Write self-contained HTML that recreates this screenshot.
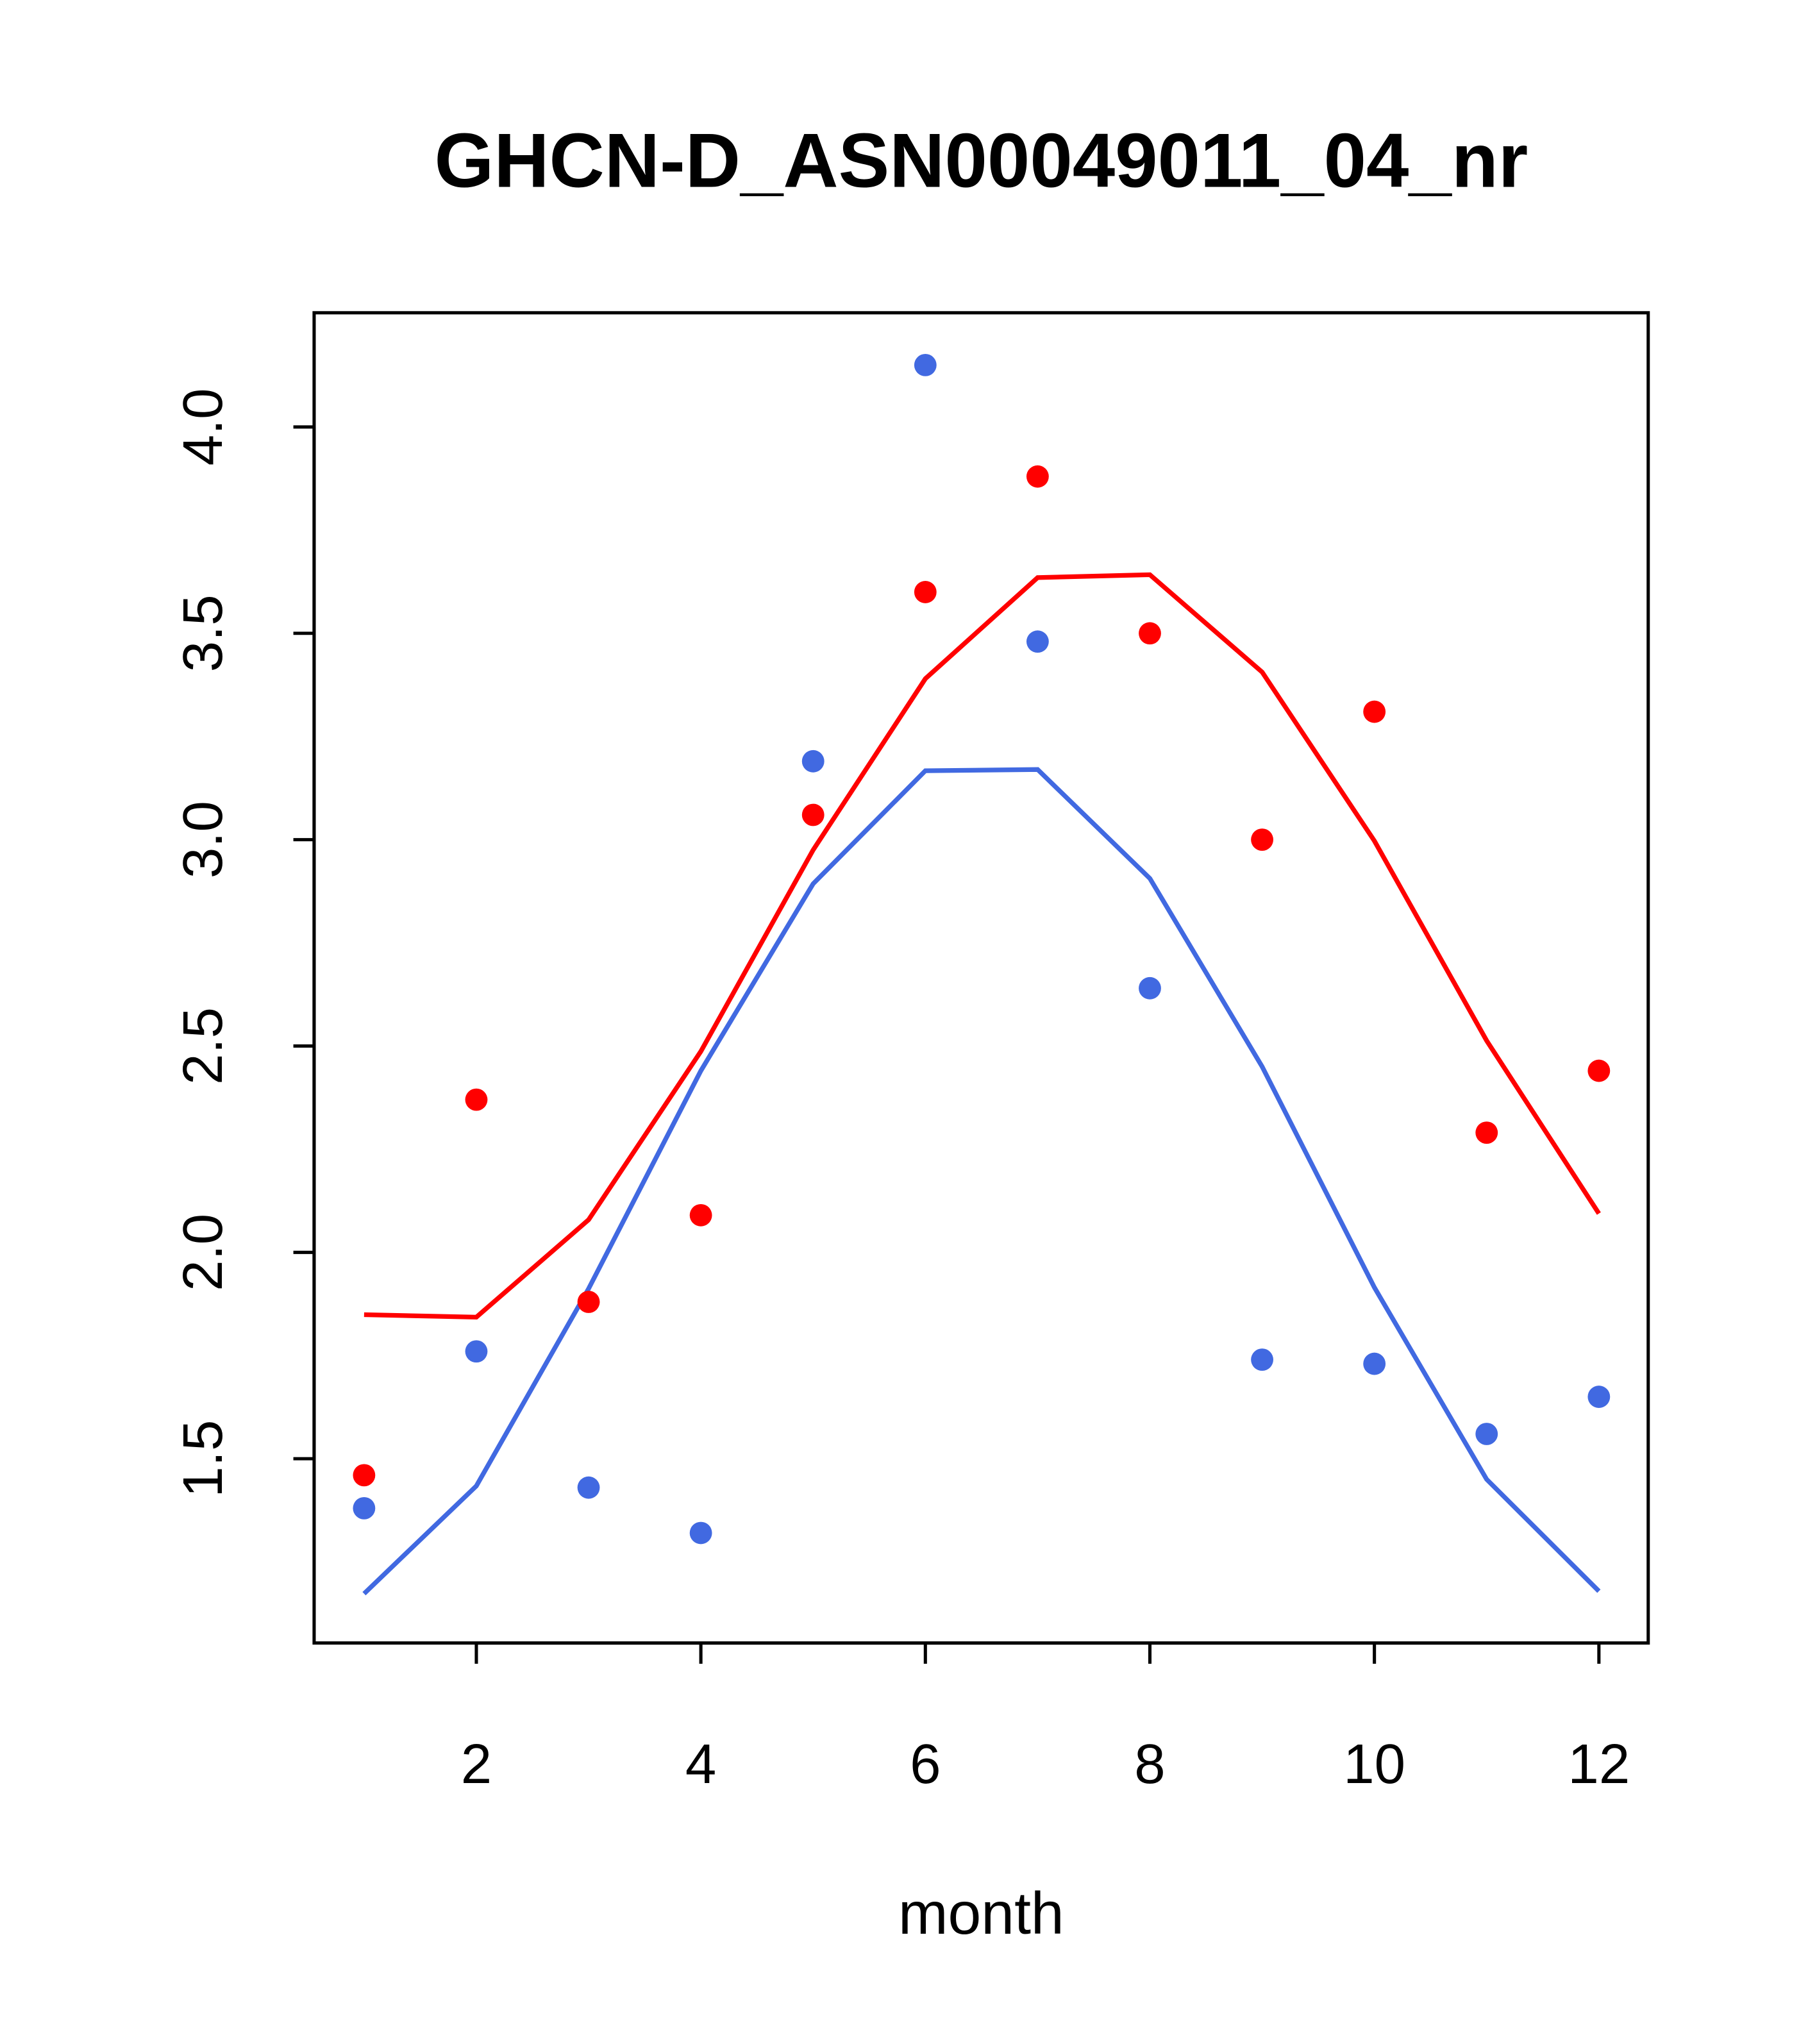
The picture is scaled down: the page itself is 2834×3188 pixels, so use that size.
<!DOCTYPE html>
<html><head><meta charset="utf-8"><style>html,body{margin:0;padding:0;background:#fff}svg{display:block}</style></head>
<body>
<svg width="2834" height="3188" viewBox="0 0 1400 1575" xmlns="http://www.w3.org/2000/svg" font-family="'Liberation Sans', sans-serif">
<rect width="1400" height="1575" fill="#fff"/>
<text x="756" y="144" text-anchor="middle" font-size="59" font-weight="bold">GHCN-D_ASN00049011_04_nr</text>
<rect x="242" y="241" width="1028" height="1025" fill="none" stroke="#000" stroke-width="2.5"/>
<g id="xaxis"></g>
<g id="yaxis"></g>
<text x="756" y="1490" text-anchor="middle" font-size="46">month</text>
<g id="series"></g>
</svg>
<script>
const months = [1,2,3,4,5,6,7,8,9,10,11,12];
const redPoints = [1.46,2.37,1.88,2.09,3.06,3.60,3.88,3.50,3.00,3.31,2.29,2.44];
const bluePoints = [1.38,1.76,1.43,1.32,3.19,4.15,3.48,2.64,1.74,1.73,1.56,1.65];
const redLine = [1.849,1.843,2.079,2.487,2.975,3.390,3.635,3.642,3.406,2.997,2.513,2.094];
const blueLine = [1.173,1.434,1.912,2.440,2.893,3.167,3.170,2.906,2.450,1.915,1.450,1.179];
const xTicks = [2,4,6,8,10,12];
const yTicks = [1.5,2.0,2.5,3.0,3.5,4.0];
const yTickLabels = ["1.5","2.0","2.5","3.0","3.5","4.0"];

const NS = "http://www.w3.org/2000/svg";
function X(m){return 280.5 + (m-1)*86.5;}
function Y(v){return 1124 - (v-1.5)*318;}
function mk(tag, attrs, parent){const e=document.createElementNS(NS,tag);for(const k in attrs)e.setAttribute(k,attrs[k]);parent.appendChild(e);return e;}

const xa=document.getElementById('xaxis');
mk('line',{x1:X(2),x2:X(12),y1:1266,y2:1266,stroke:'#000','stroke-width':2.5},xa);
xTicks.forEach(t=>{
  const l=mk('line',{x1:X(t),x2:X(t),y1:1266,y2:1282,stroke:'#000','stroke-width':2.5},xa);
  
  
  const tx=mk('text',{x:X(t),y:1374,'text-anchor':'middle','font-size':43},xa);
  tx.textContent=t;
  
  
});
const ya=document.getElementById('yaxis');
mk('line',{x1:242,x2:242,y1:Y(1.5),y2:Y(4.0),stroke:'#000','stroke-width':2.5},ya);
yTicks.forEach((t,i)=>{
  const l=mk('line',{x1:226,x2:242,y1:Y(t),y2:Y(t),stroke:'#000','stroke-width':2.5},ya);
  
  
  const tx=mk('text',{x:0,y:0,'text-anchor':'middle','font-size':43,transform:`translate(171,${Y(t)}) rotate(-90)`},ya);
  tx.textContent=yTickLabels[i];
  
  
});
const s=document.getElementById('series');
function line(vals,color,name){
  const p=mk('polyline',{points:vals.map((v,i)=>X(months[i])+','+Y(v)).join(' '),fill:'none',stroke:color,'stroke-width':3.6},s);
  
  
}
function pts(vals,color,name){
  vals.forEach((v,i)=>{
    const c=mk('circle',{cx:X(months[i]),cy:Y(v),r:8.6,fill:color},s);
    
    
  });
}
line(redLine,'#ff0000','red-trend-line');
line(blueLine,'#4169e1','blue-trend-line');
pts(redPoints,'#ff0000','red-point');
pts(bluePoints,'#4169e1','blue-point');
</script>
</body></html>
